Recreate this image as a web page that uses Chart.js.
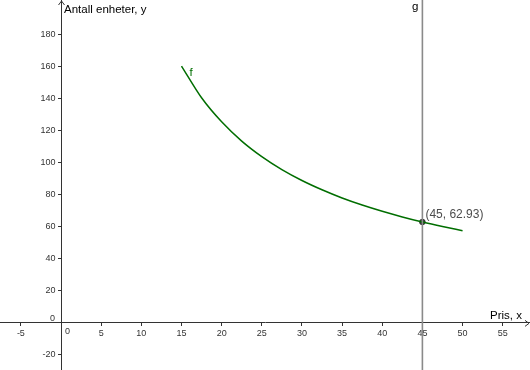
<!DOCTYPE html>
<html>
<head>
<meta charset="utf-8">
<script src="https://cdn.jsdelivr.net/npm/chart.js@4.4.1/dist/chart.umd.min.js"></script>
<style>
  body { margin: 0; background: #fff; }
  #wrap { width: 530px; height: 370px; }
</style>
</head>
<body>
<div id="wrap"><canvas id="myChart" width="530" height="370"></canvas></div>
<script>
// values
const curveX = [15, 17.5, 20, 22.5, 25, 27.5, 30, 32.5, 35, 37.5, 40, 42.5, 45, 47.5, 50];
const curveY = [160.2, 140.4, 125.4, 113.4, 103.7, 95.6, 88.8, 83.0, 77.9, 73.5, 69.6, 66.1, 62.93, 60.1, 57.5];
const lineGX = [45];
const pointX = [45];
const pointY = [62.93];
const pointText = ['(45, 62.93)'];
const xTitle = 'Pris, x';
const yTitle = 'Antall enheter, y';

const xMin = -7.6, xMax = 58.4;
const yMin = -29.4, yMax = 201.4;

const tickFont = { family: 'Liberation Sans', size: 9 };
const textFont = '11.5px "Liberation Sans"';

// y labels sit on the axis when it is placed at x = 0, push them left a bit
function shiftLabels(scale, dx) {
    const orig = scale._computeLabelItems;
    scale._computeLabelItems = function (area) {
        const items = orig.call(this, area);
        items.forEach(it => { it.options.translation[0] += dx; });
        return items;
    };
}

const labelPlugin = {
    id: 'labelPlugin',
    afterDraw(chart) {
        const ctx = chart.ctx;
        const x = chart.scales.x;
        const y = chart.scales.y;
        const ox = x.getPixelForValue(0);
        const oy = y.getPixelForValue(0);
        ctx.save();

        // origin labels
        ctx.font = '9px "Liberation Sans"';
        ctx.fillStyle = '#333';
        ctx.textAlign = 'center';
        ctx.textBaseline = 'middle';
        ctx.fillText('0', ox + 6.5, oy + 8.5);
        ctx.fillText('0', ox - 8.5, oy - 4);

        // arrows at axis ends
        ctx.strokeStyle = '#333';
        ctx.lineWidth = 1;
        ctx.beginPath();
        ctx.moveTo(ox - 2.5, 5); ctx.lineTo(ox + 0.5, 1); ctx.lineTo(ox + 3.5, 5);
        ctx.moveTo(525, oy - 2.5); ctx.lineTo(529, oy + 0.5); ctx.lineTo(525, oy + 3.5);
        ctx.stroke();

        // axis titles
        ctx.font = textFont;
        ctx.fillStyle = '#000';
        ctx.textAlign = 'left';
        ctx.textBaseline = 'alphabetic';
        ctx.fillText(yTitle, ox + 3, 13);
        ctx.fillText(xTitle, 490, oy - 4);

        // g label
        const gx = x.getPixelForValue(lineGX[0]);
        ctx.fillText('g', gx - 10.5, 10);

        // f label
        ctx.fillStyle = 'rgb(0,110,0)';
        ctx.fillText('f', x.getPixelForValue(curveX[0]) + 8, y.getPixelForValue(curveY[0]) + 9.5);

        // point label
        ctx.fillStyle = '#4d4d4d';
        ctx.font = '12px "Liberation Sans"';
        ctx.fillText(pointText[0], x.getPixelForValue(pointX[0]) + 3, y.getPixelForValue(pointY[0]) - 4);
        ctx.restore();
    }
};

const ctx = document.getElementById('myChart');

new Chart(ctx, {
    type: 'line',
    data: {
        datasets: [{
            label: 'g',
            data: [{ x: lineGX[0], y: yMin }, { x: lineGX[0], y: yMax }],
            borderColor: '#8a8a8a',
            borderWidth: 1.6,
            pointRadius: 0
        }, {
            label: 'f',
            data: curveX.map((v, i) => ({ x: v, y: curveY[i] })),
            borderColor: 'rgb(0,110,0)',
            borderWidth: 1.5,
            pointRadius: 0,
            cubicInterpolationMode: 'monotone'
        }, {
            label: 'A',
            type: 'scatter',
            data: pointX.map((v, i) => ({ x: v, y: pointY[i] })),
            backgroundColor: '#333',
            borderColor: '#333',
            pointRadius: 2.8
        }]
    },
    options: {
        responsive: false,
        animation: false,
        layout: { padding: 0, autoPadding: false },
        plugins: { legend: { display: false }, tooltip: { enabled: false } },
        scales: {
            x: {
                type: 'linear',
                position: { y: 0 },
                min: xMin,
                max: xMax,
                border: { color: '#333', width: 1 },
                grid: { drawOnChartArea: false, drawTicks: true, tickLength: 3, color: '#333' },
                ticks: { stepSize: 5, includeBounds: false, maxRotation: 0, autoSkip: false, padding: 2, color: '#333', font: tickFont },
                afterBuildTicks: s => { s.ticks = s.ticks.filter(t => t.value !== 0); },
                afterFit: s => { s.paddingLeft = 0; s.paddingRight = 0; s.paddingTop = 0; s.paddingBottom = 0; }
            },
            y: {
                type: 'linear',
                position: { x: 0 },
                min: yMin,
                max: yMax,
                border: { color: '#333', width: 1 },
                grid: { drawOnChartArea: false, drawTicks: true, tickLength: 3, color: '#333' },
                ticks: { stepSize: 20, includeBounds: false, autoSkip: false, padding: 2, color: '#333', font: tickFont },
                afterBuildTicks: s => { s.ticks = s.ticks.filter(t => t.value !== 0 && t.value <= 180); },
                afterFit: s => {
                    s.paddingLeft = 0; s.paddingRight = 0; s.paddingTop = 0; s.paddingBottom = 0;
                    if (!s._shifted) { shiftLabels(s, -5.5); s._shifted = true; }
                }
            }
        }
    },
    plugins: [labelPlugin]
});
</script>
</body>
</html>
